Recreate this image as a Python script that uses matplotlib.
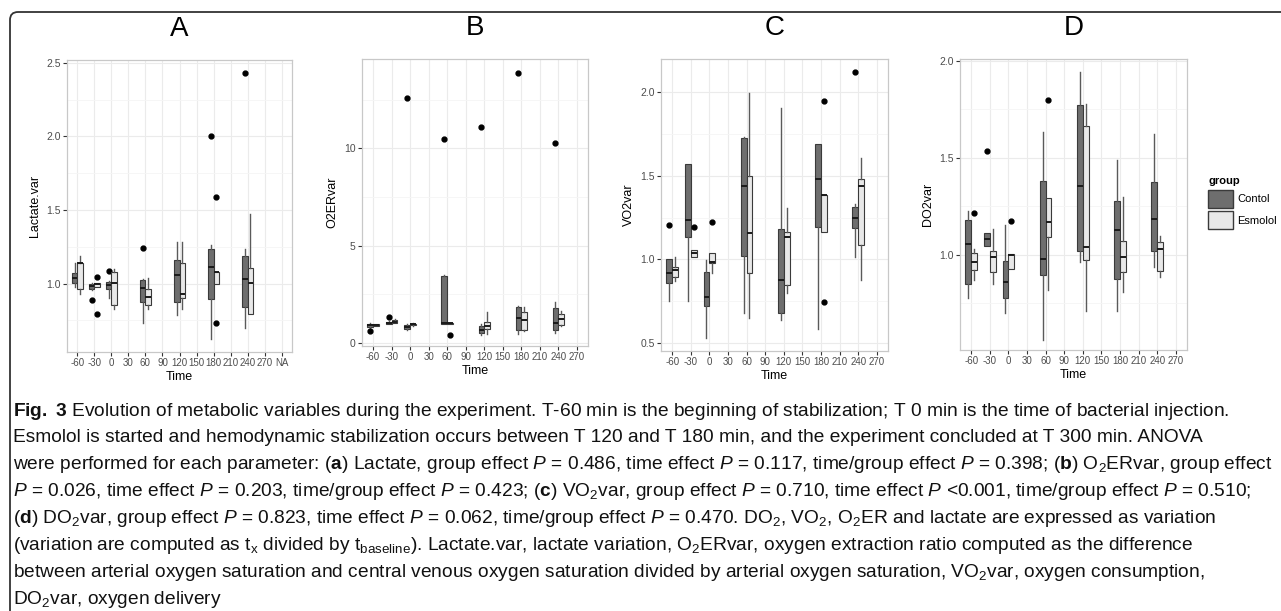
import matplotlib
matplotlib.use("Agg")
import matplotlib.pyplot as plt
from matplotlib.patches import FancyBboxPatch, Patch

# ---- data ----
times_all = ["-60", "-30", "0", "30", "60", "90", "120", "150", "180", "210", "240", "270"]
times_A = times_all + ["NA"]
box_times = ["-60", "-30", "0", "60", "120", "180", "240"]

# each tuple: (whisker low, q1, median, q3, whisker high) at box_times
lac_ctrl = [(0.98, 1.005, 1.036, 1.072, 1.14), (0.955, 0.96, 0.986, 1.0, 1.005),
            (0.903, 0.964, 0.99, 1.009, 1.02), (0.734, 0.872, 0.968, 1.022, 1.03),
            (0.784, 0.872, 1.061, 1.16, 1.284), (0.626, 0.892, 1.11, 1.232, 1.261),
            (0.70, 0.84, 1.034, 1.187, 1.232)]
lac_ctrl_out = [[], [0.887], [1.083], [1.241], [], [2.0], [2.43]]
lac_esm = [(0.93, 0.96, 1.14, 1.142, 1.19), (0.977, 0.977, 0.995, 1.005, 1.005),
           (0.83, 0.856, 1.002, 1.077, 1.099), (0.83, 0.856, 0.912, 0.96, 1.04),
           (0.83, 0.903, 0.93, 1.137, 1.284), (1.0, 1.0, 1.077, 1.081, 1.081),
           (0.793, 0.793, 1.002, 1.106, 1.471)]
lac_esm_out = [[], [1.047, 0.79], [], [], [], [1.59, 0.734], []]

o2er_ctrl = [(0.75, 0.8, 0.9, 0.95, 1.0), (0.95, 0.95, 1.0, 1.05, 1.1),
             (0.65, 0.7, 0.8, 0.9, 0.95), (0.95, 0.97, 1.0, 3.45, 3.5),
             (0.4, 0.5, 0.65, 0.85, 0.95), (0.45, 0.65, 1.25, 1.85, 1.9),
             (0.5, 0.65, 1.0, 1.8, 2.1)]
o2er_ctrl_out = [[0.6], [1.3], [12.6], [10.5], [11.1], [13.9], [10.3]]
o2er_esm = [(0.85, 0.85, 0.9, 0.95, 0.95), (1.0, 1.0, 1.05, 1.15, 1.2),
            (0.85, 0.9, 0.95, 0.98, 1.0), (0.95, 0.96, 1.0, 1.02, 1.02),
            (0.45, 0.7, 0.85, 1.05, 1.6), (0.6, 0.65, 1.15, 1.6, 1.85),
            (0.85, 0.9, 1.2, 1.5, 1.65)]
o2er_esm_out = [[], [], [], [0.4], [], [], []]

vo2_ctrl = [(0.75, 0.86, 0.916, 1.0, 1.0), (0.75, 1.136, 1.236, 1.57, 1.57),
            (0.526, 0.722, 0.776, 0.922, 0.996), (0.676, 1.022, 1.436, 1.726, 1.735),
            (0.636, 0.676, 0.876, 1.18, 1.906), (0.582, 1.196, 1.482, 1.69, 1.69),
            (1.016, 1.186, 1.246, 1.316, 1.33)]
vo2_ctrl_out = [[1.205], [], [], [], [], [], [2.12]]
vo2_esm = [(0.87, 0.896, 0.936, 0.956, 1.016), (1.016, 1.016, 1.036, 1.056, 1.056),
           (0.916, 0.98, 0.986, 1.04, 1.04), (0.646, 0.92, 1.16, 1.496, 1.996),
           (0.8, 0.844, 1.132, 1.166, 1.306), (1.162, 1.162, 1.382, 1.386, 1.386),
           (0.876, 1.086, 1.436, 1.482, 1.606)]
vo2_esm_out = [[], [1.196], [1.226], [], [], [1.946, 0.742], []]

do2_ctrl = [(0.78, 0.85, 1.057, 1.181, 1.224), (1.048, 1.048, 1.083, 1.112, 1.112),
            (0.7, 0.78, 0.86, 0.97, 1.155), (0.564, 0.895, 0.979, 1.379, 1.633),
            (0.966, 1.022, 1.353, 1.771, 1.943), (0.71, 0.876, 1.126, 1.276, 1.488),
            (0.94, 1.021, 1.185, 1.376, 1.621)]
do2_ctrl_out = [[], [1.534], [], [], [], [], []]
do2_esm = [(0.87, 0.922, 0.966, 1.009, 1.03), (0.85, 0.91, 0.991, 1.022, 1.134),
           (0.928, 0.928, 1.0, 1.004, 1.004), (0.819, 1.095, 1.172, 1.293, 1.293),
           (0.712, 0.974, 1.043, 1.667, 1.78), (0.807, 0.914, 0.988, 1.072, 1.298),
           (0.888, 0.917, 1.031, 1.066, 1.098)]
do2_esm_out = [[1.217], [], [1.177], [1.80], [], [], []]

caption = [
    r"$\mathbf{Fig.\ 3}$ Evolution of metabolic variables during the experiment. T-60 min is the beginning of stabilization; T 0 min is the time of bacterial injection.",
    r"Esmolol is started and hemodynamic stabilization occurs between T 120 and T 180 min, and the experiment concluded at T 300 min. ANOVA",
    r"were performed for each parameter: ($\mathbf{a}$) Lactate, group effect $P$ = 0.486, time effect $P$ = 0.117, time/group effect $P$ = 0.398; ($\mathbf{b}$) O$_2$ERvar, group effect",
    r"$P$ = 0.026, time effect $P$ = 0.203, time/group effect $P$ = 0.423; ($\mathbf{c}$) VO$_2$var, group effect $P$ = 0.710, time effect $P$ <0.001, time/group effect $P$ = 0.510;",
    r"($\mathbf{d}$) DO$_2$var, group effect $P$ = 0.823, time effect $P$ = 0.062, time/group effect $P$ = 0.470. DO$_2$, VO$_2$, O$_2$ER and lactate are expressed as variation",
    r"(variation are computed as t$_\mathrm{x}$ divided by t$_\mathrm{baseline}$). Lactate.var, lactate variation, O$_2$ERvar, oxygen extraction ratio computed as the difference",
    r"between arterial oxygen saturation and central venous oxygen saturation divided by arterial oxygen saturation, VO$_2$var, oxygen consumption,",
    r"DO$_2$var, oxygen delivery",
]

# ---- style ----
plt.rcParams["font.family"] = ["Liberation Sans", "DejaVu Sans"]
plt.rcParams["mathtext.fontset"] = "custom"
plt.rcParams["mathtext.rm"] = "Liberation Sans"
plt.rcParams["mathtext.it"] = "Liberation Sans:italic"
plt.rcParams["mathtext.bf"] = "Liberation Sans:bold"

DARK = "#6e6e6e"
LIGHT = "#e8e8e8"

W, H = 1281, 611
fig = plt.figure(figsize=(W / 100, H / 100), dpi=100)
fig.patch.set_facecolor("white")


def add_ax(l, t, r, b):
    return fig.add_axes([l / W, 1 - b / H, (r - l) / W, (b - t) / H])


def draw_panel(ax, labels, ctrl, ctrl_out, esm, esm_out, ylim, yticks, ylabel, title):
    idx = {lab: i for i, lab in enumerate(labels)}
    pos = [idx[t] for t in box_times]
    for stats, outs, off, fc in ((ctrl, ctrl_out, -0.155, DARK), (esm, esm_out, 0.155, LIGHT)):
        recs = [dict(whislo=s[0], q1=s[1], med=s[2], q3=s[3], whishi=s[4], fliers=o)
                for s, o in zip(stats, outs)]
        ax.bxp(recs, positions=[p + off for p in pos], widths=0.31, patch_artist=True,
               showcaps=False, manage_ticks=False,
               boxprops=dict(facecolor=fc, edgecolor="#3a3a3a", linewidth=0.8),
               whiskerprops=dict(color="#5a5a5a", linewidth=1.0),
               medianprops=dict(color="#1a1a1a", linewidth=1.4),
               flierprops=dict(marker="o", markersize=3.5, markerfacecolor="black",
                               markeredgecolor="black"))
    ax.set_xticks(range(len(labels)))
    ax.set_xticklabels(labels, fontsize=7, color="#4d4d4d")
    ax.set_yticks(yticks)
    ax.set_yticklabels([str(v) for v in yticks], fontsize=7.5, color="#4d4d4d")
    step = yticks[1] - yticks[0]
    minor = [yticks[0] - step / 2] + [v + step / 2 for v in yticks]
    ax.set_yticks(minor, minor=True)
    ax.set_xlim(-0.6, len(labels) - 0.4)
    ax.set_ylim(*ylim)
    ax.tick_params(axis="y", which="minor", length=0)
    ax.tick_params(which="major", length=3, width=0.8, color="#333333", pad=1.5)
    ax.grid(True, which="major", color="#ebebeb", linewidth=0.8)
    ax.grid(True, which="minor", axis="y", color="#f5f5f5", linewidth=0.6)
    ax.set_axisbelow(True)
    for sp in ax.spines.values():
        sp.set_color("#c8c8c8")
        sp.set_linewidth(0.9)
    ax.set_xlabel("Time", fontsize=9, labelpad=2)
    ax.set_ylabel(ylabel, fontsize=9, labelpad=4)
    ax.set_title(title, fontsize=20, pad=17)


axA = add_ax(67, 60, 292, 352)
draw_panel(axA, times_A, lac_ctrl, lac_ctrl_out, lac_esm, lac_esm_out,
           (0.535, 2.52), [1.0, 1.5, 2.0, 2.5], "Lactate.var", "A")
axB = add_ax(362, 59, 588, 346)
draw_panel(axB, times_all, o2er_ctrl, o2er_ctrl_out, o2er_esm, o2er_esm_out,
           (-0.17, 14.6), [0, 5, 10], "O2ERvar", "B")
axC = add_ax(661, 59, 888, 351)
draw_panel(axC, times_all, vo2_ctrl, vo2_ctrl_out, vo2_esm, vo2_esm_out,
           (0.45, 2.2), [0.5, 1.0, 1.5, 2.0], "VO2var", "C")
axD = add_ax(960, 59, 1187, 350)
draw_panel(axD, times_all, do2_ctrl, do2_ctrl_out, do2_esm, do2_esm_out,
           (0.51, 2.01), [1.0, 1.5, 2.0], "DO2var", "D")

handles = [Patch(facecolor=DARK, edgecolor="#3a3a3a", label="Contol"),
           Patch(facecolor=LIGHT, edgecolor="#3a3a3a", label="Esmolol")]
leg = fig.legend(handles=handles, title="group", loc="upper left",
                 bbox_to_anchor=(1204 / W, 1 - 172 / H), frameon=False,
                 fontsize=8, title_fontsize=8, handlelength=2.2, handleheight=2.0,
                 labelspacing=0.35, borderaxespad=0, handletextpad=0.4, alignment="left")
leg.get_title().set_fontweight("bold")

# outer frame
frame = FancyBboxPatch((10, -20), 1300, H - 12 + 20, boxstyle="round,pad=0,rounding_size=8",
                       transform=None, fill=False, edgecolor="#333333", linewidth=1.3)
fig.add_artist(frame)

# caption, sized so the widest line fits the frame
renderer = fig.canvas.get_renderer()
widest = 0
for line in caption:
    probe = fig.text(0, 0, line, fontsize=12)
    widest = max(widest, probe.get_window_extent(renderer).width)
    probe.remove()
fs = 12 * 1262 / widest
for i, line in enumerate(caption):
    fig.text(13 / W, 1 - (411 + i * 26.9) / H, line, fontsize=fs,
             va="center", ha="left", color="#111111")

fig.savefig("out.png", dpi=100, facecolor="white")
